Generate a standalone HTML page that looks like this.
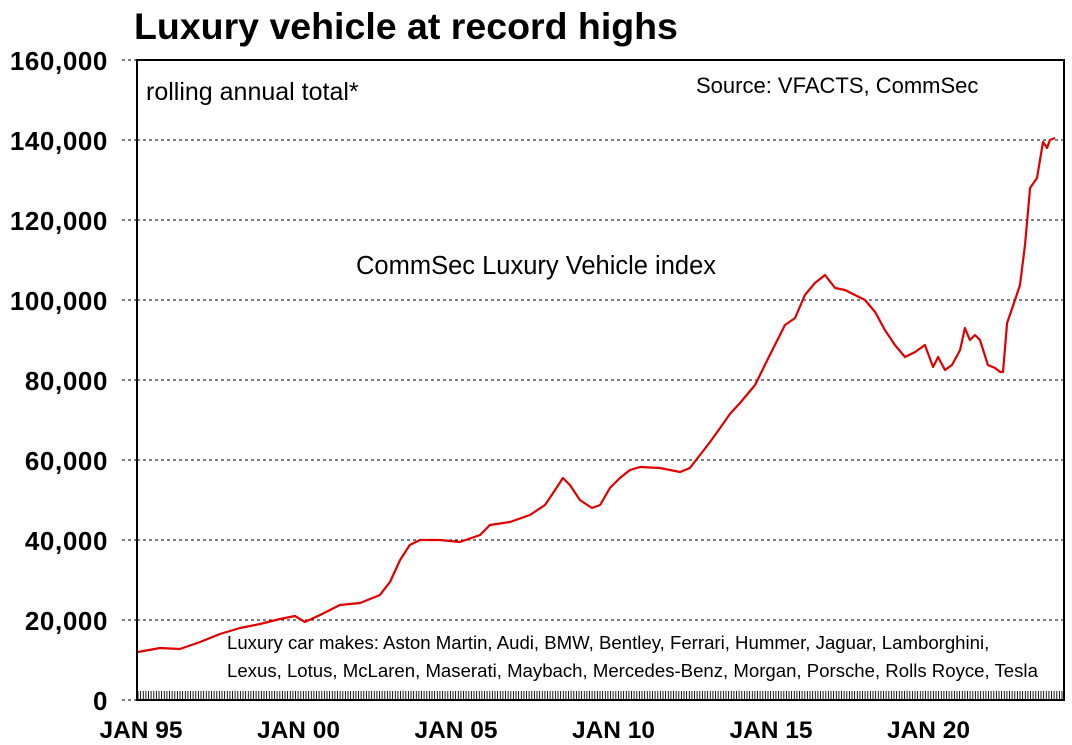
<!DOCTYPE html>
<html><head><meta charset="utf-8"><style>
html,body{margin:0;padding:0;background:#fff;}
svg{display:block;font-family:"Liberation Sans",Arial,sans-serif;}
</style></head><body>
<svg id="chart" width="1072" height="745">
<text x="134" y="39" font-size="37.5" font-weight="bold">Luxury vehicle at record highs</text>
<g id="grid"></g>
<g id="yticks"></g>
<g id="xticks"></g>
<rect x="137" y="60" width="927" height="640" fill="none" stroke="#000" stroke-width="2"/>
<text x="146" y="100" font-size="25">rolling annual total*</text>
<text x="696" y="93" font-size="22">Source: VFACTS, CommSec</text>
<text x="356" y="274" font-size="25.5">CommSec Luxury Vehicle index</text>
<text x="227" y="649" font-size="18.6">Luxury car makes: Aston Martin, Audi, BMW, Bentley, Ferrari, Hummer, Jaguar, Lamborghini,</text>
<text x="227" y="677" font-size="18.6">Lexus, Lotus, McLaren, Maserati, Maybach, Mercedes-Benz, Morgan, Porsche, Rolls Royce, Tesla</text>
<path id="line" fill="none" stroke="#e00000" stroke-width="2.2" stroke-linejoin="round"/>
</svg>
<script>
const dates=[1995.0,1995.7,1996.33,1996.97,1997.6,1998.24,1998.87,1999.51,1999.98,2000.3,2000.78,2001.41,2002.05,2002.68,2003.0,2003.32,2003.63,2003.95,2004.59,2005.22,2005.86,2006.17,2006.81,2007.44,2007.92,2008.24,2008.49,2008.71,2009.03,2009.41,2009.67,2009.98,2010.3,2010.62,2010.94,2011.57,2012.21,2012.52,2012.84,2013.16,2013.48,2013.79,2014.11,2014.59,2014.9,2015.22,2015.54,2015.86,2016.17,2016.49,2016.81,2017.13,2017.44,2017.76,2018.08,2018.4,2018.71,2019.03,2019.35,2019.67,2019.98,2020.24,2020.4,2020.62,2020.84,2021.1,2021.25,2021.41,2021.57,2021.73,2021.98,2022.21,2022.37,2022.46,2022.59,2022.84,2023.0,2023.16,2023.32,2023.54,2023.73,2023.86,2023.95,2024.11];
const values=[12000,13000,12750,14500,16500,18000,19000,20250,21000,19500,21250,23750,24250,26250,29500,35000,38750,40000,40000,39500,41250,43750,44500,46250,48750,52500,55500,53750,50000,48000,48750,53000,55500,57500,58250,58000,57000,58000,61250,64500,68000,71500,74250,78750,83750,88750,93750,95500,101250,104250,106250,103000,102500,101250,100000,97000,92500,88750,85750,87000,88750,83250,85750,82500,83750,87500,93000,90000,91250,90000,83750,83000,82000,82000,94250,100000,103750,113750,128000,130500,139500,138000,140000,140500];
const yTicks=[0,20000,40000,60000,80000,100000,120000,140000,160000];
const xLabels=["JAN 95","JAN 00","JAN 05","JAN 10","JAN 15","JAN 20"];
const xLabelYears=[1995,2000,2005,2010,2015,2020];
const NS="http://www.w3.org/2000/svg";
const X=y=>138+(y-1995)*31.5;
const Y=v=>700-v/250;
const grid=document.getElementById('grid'),yt=document.getElementById('yticks'),xt=document.getElementById('xticks');
yTicks.forEach(v=>{
  if(v>0&&v<160000){
    const l=document.createElementNS(NS,'line');
    l.setAttribute('x1',137);l.setAttribute('x2',1064);l.setAttribute('y1',Y(v));l.setAttribute('y2',Y(v));
    l.setAttribute('stroke','#000');l.setAttribute('stroke-width','1');l.setAttribute('stroke-dasharray','3,3');
    
    
    grid.appendChild(l);
  }
  const d=document.createElementNS(NS,'line');
  d.setAttribute('x1',122);d.setAttribute('x2',137);d.setAttribute('y1',Y(v));d.setAttribute('y2',Y(v));
  d.setAttribute('stroke','#000');d.setAttribute('stroke-dasharray','3,3');
  
  
  grid.appendChild(d);
  const t=document.createElementNS(NS,'text');
  t.setAttribute('x',108);t.setAttribute('y',Y(v)+10);t.setAttribute('text-anchor','end');
  t.setAttribute('font-size','26');t.setAttribute('font-weight','bold');t.setAttribute('letter-spacing','0.6');
  t.textContent=v.toLocaleString('en-US');
  
  
  yt.appendChild(t);
});
let p='';
for(let m=0;m<=352;m++){const x=138+m*31.5/12;p+='M'+x.toFixed(1)+' 700V691';}
const tk=document.createElementNS(NS,'path');
tk.setAttribute('d',p);tk.setAttribute('stroke','#000');tk.setAttribute('stroke-width','0.9');


xt.appendChild(tk);
xLabels.forEach((s,i)=>{
  const t=document.createElementNS(NS,'text');
  t.setAttribute('x',X(xLabelYears[i])+3);t.setAttribute('y',738);t.setAttribute('text-anchor','middle');
  t.setAttribute('font-size','24.5');t.setAttribute('font-weight','bold');
  t.textContent=s;
  
  
  xt.appendChild(t);
});
document.getElementById('line').setAttribute('d',dates.map((d,i)=>(i?'L':'M')+X(d).toFixed(1)+' '+Y(values[i]).toFixed(1)).join(''));
</script>
</body></html>
